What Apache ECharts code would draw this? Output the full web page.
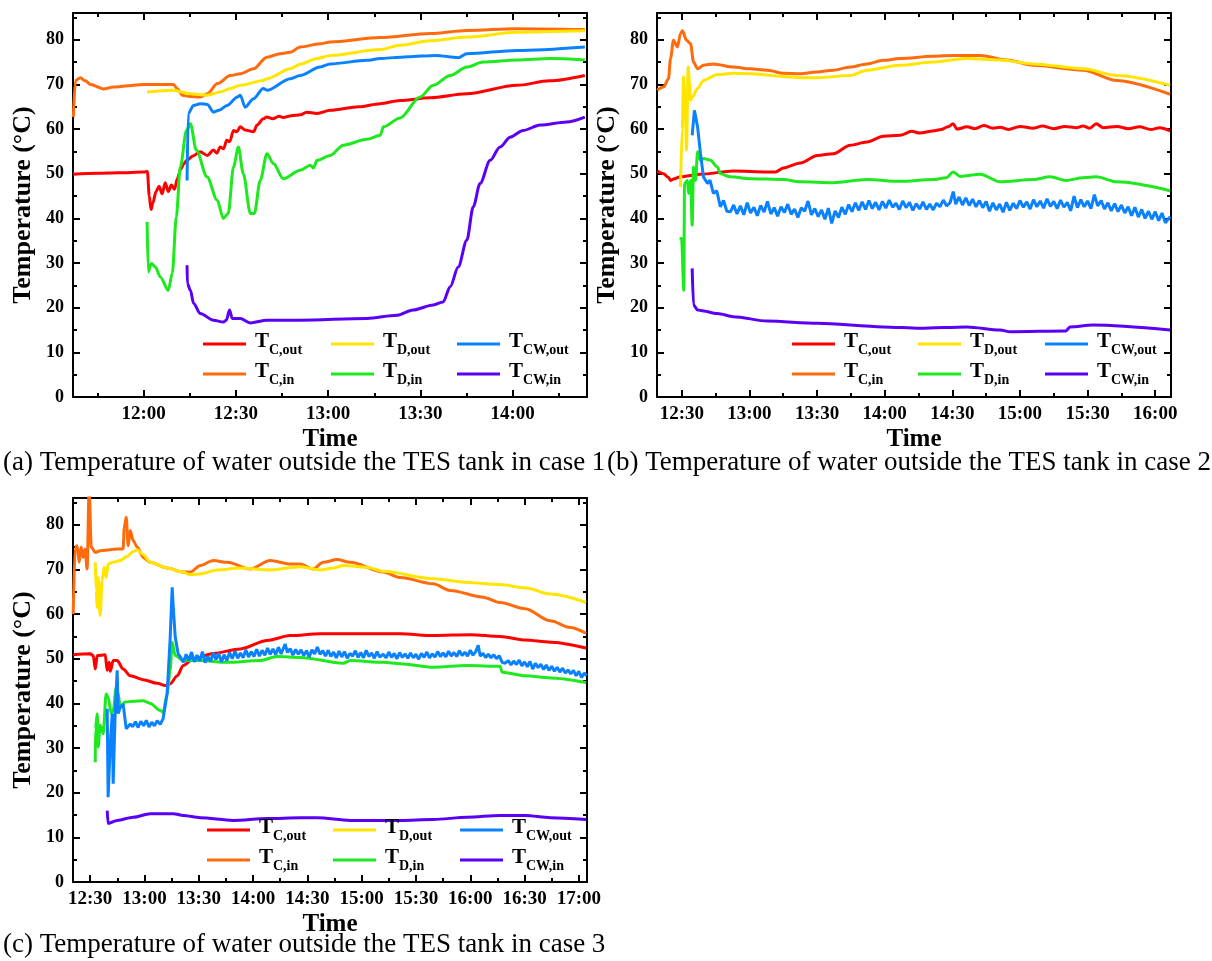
<!DOCTYPE html>
<html>
<head>
<meta charset="utf-8">
<title>Temperature of water outside the TES tank</title>
<script src="https://cdn.jsdelivr.net/npm/echarts@6.0.0/dist/echarts.min.js"></script>
<style>
  html, body { margin: 0; padding: 0; background: #fff; }
  #chart { width: 1212px; height: 961px; }
</style>
</head>
<body>
<div id="chart"></div>
<script>
// time is in minutes after midnight, temperature in °C
const seriesNames = ['TC,out', 'TC,in', 'TD,out', 'TD,in', 'TCW,out', 'TCW,in']
const seriesColors = ['#ff0000', '#ff6a0d', '#ffe500', '#1ee81e', '#0a82ff', '#5a00f5']

const yMajor = [0, 10, 20, 30, 40, 50, 60, 70, 80]
const yMinor = [5, 15, 25, 35, 45, 55, 65, 75, 85]
const yRange = [0, 86]

// case 1
const aRange = [697, 864.2]
const aMajor = [720, 750, 780, 810, 840]
const aMinor = [705, 735, 765, 795, 825, 855]
const a_TCout = [[697, 49.9], [705, 50.1], [712, 50.2], [720, 50.4], [721.2, 50.5], [721.8, 45], [722.4, 42], [723, 43.5], [724, 46], [725, 47.2], [726, 45.5], [727, 48], [728, 46], [729, 47.5], [730, 46.5], [731, 49], [732, 51], [733, 52.2], [734, 53], [736, 54], [738.4, 54.9], [740.7, 54.1], [742.7, 55.3], [743.8, 54.6], [744.9, 56], [746, 55.6], [747, 57.5], [748, 57.2], [749.2, 59.7], [750.3, 59.4], [751.4, 60.5], [753, 59.8], [755.7, 59.4], [756.9, 60.9], [758.9, 62.3], [760, 62.7], [762, 62.3], [764, 62.9], [765.4, 62.6], [768, 63], [771, 63.2], [773, 63.8], [776.4, 63.5], [780.7, 64.2], [790, 65], [796.9, 65.7], [803.4, 66.4], [813.2, 67], [825, 67.9], [841.4, 69.8], [852, 70.8], [863.5, 72]]
const a_TCin = [[697.1, 62.7], [697.8, 70.9], [699.4, 71.5], [701, 70.8], [702.7, 70], [706.9, 69], [710.2, 69.4], [715, 69.7], [720, 70], [729.7, 70], [731, 69], [732.6, 67.6], [735, 67.3], [738.4, 67.2], [740.7, 67.9], [744, 70.2], [748.2, 72], [751.4, 72.4], [755.7, 73.5], [760.1, 76.1], [764.4, 76.9], [767.7, 77.2], [770.9, 78.4], [777.4, 79.1], [780.7, 79.5], [796.9, 80.5], [813.2, 81.4], [825.1, 82.1], [841.4, 82.5], [863.5, 82.3]]
const a_TDout = [[721.1, 68.3], [729.6, 68.7], [735.2, 67.9], [740.7, 67.6], [744.9, 68.3], [748.2, 69.1], [751.4, 69.8], [758.9, 70.9], [760.1, 71.3], [767.7, 73.5], [770.9, 74.5], [776.4, 75.8], [780.7, 76.5], [796.9, 77.8], [803.4, 78.8], [813.2, 79.8], [825.1, 80.6], [841.4, 81.7], [863.5, 82]]
const a_TDin = [[721.1, 39.2], [721.5, 28], [722.5, 29.9], [723.8, 29.1], [725.4, 26.9], [728, 23.9], [729.3, 27.7], [730.6, 40.3], [731.9, 51.5], [733.9, 59.7], [735.2, 61.2], [737.1, 55.3], [740.6, 49.3], [743.9, 44.1], [745.9, 40], [747.5, 41.1], [749.2, 51.5], [750.8, 56], [752.4, 50], [754.7, 41.1], [756, 41.1], [757.9, 48.5], [760.1, 54.5], [762.2, 52.3], [765.4, 48.9], [770.9, 50.8], [774.2, 51.9], [775.2, 51.3], [776.4, 53], [780.7, 54.1], [784.9, 56.4], [792.6, 57.7], [796.9, 58.6], [798, 60.5], [803.4, 62.5], [809.9, 67.2], [814.2, 69.8], [819.7, 72], [825.1, 73.9], [830.4, 75], [841.4, 75.5], [852.2, 75.8], [863.5, 75.5]]
const a_TCWout = [[734.1, 48.5], [734.5, 63.5], [736.2, 65.3], [738.4, 65.7], [740.7, 65.5], [742.7, 63.8], [744.5, 64.2], [747.1, 65.3], [750.5, 67.2], [751.4, 67.6], [753, 64.9], [755.7, 66.8], [758.9, 69.1], [760.1, 68.7], [767.7, 71.3], [770.9, 72], [777.4, 73.9], [780.7, 74.6], [792.6, 75.4], [796.9, 75.8], [803.4, 76.1], [806, 76.2], [815, 76.5], [822.3, 76], [825.1, 76.9], [841.4, 77.6], [863.5, 78.4]]
const a_TCWin = [[734.1, 29.5], [734.2, 25.4], [735.2, 23.9], [736.2, 21], [738.4, 18.7], [742.7, 17.2], [745.9, 16.8], [746.9, 17.2], [747.9, 19.5], [748.8, 17.6], [751.4, 17.6], [754.7, 16.6], [760.1, 17.2], [770.9, 17.2], [792.6, 17.6], [802.4, 18.3], [807.6, 19.5], [814.2, 20.6], [817.4, 21.3], [819.7, 24.7], [822.3, 29.1], [825.1, 35.1], [827.2, 42.6], [829.4, 47.8], [832.7, 53], [835.9, 56], [839.2, 58.2], [843.4, 59.7], [849, 60.9], [857.6, 61.6], [863.5, 62.7]]

// case 2
const bRange = [739, 967]
const bMajor = [750, 780, 810, 840, 870, 900, 930, 960]
const bMinor = [765, 795, 825, 855, 885, 915, 945]
const b_TCout = [[739.1, 50.6], [741.9, 50], [744, 49.2], [745, 48.5], [746.3, 48.8], [749.4, 49.3], [758.3, 49.9], [772.9, 50.6], [788, 50.4], [791.5, 50.4], [795.1, 51.3], [802.6, 52.4], [810.1, 54.1], [817.2, 54.5], [824.7, 56.4], [832.1, 57.1], [839.4, 58.4], [846.8, 58.6], [852, 59.5], [855.6, 59.1], [861.4, 59.6], [865, 59.9], [868, 60.5], [870.4, 61.2], [872, 60], [876.5, 60.5], [880, 60.1], [884, 60.8], [888, 60.2], [891.2, 60.4], [895, 59.9], [900, 60.6], [905.8, 60.2], [910, 60.7], [915, 60.1], [920, 60.6], [925, 60.3], [928, 60.7], [931, 60.2], [933.8, 61.2], [937, 60.3], [943, 60.6], [948, 60.1], [953, 60.5], [958, 59.9], [962, 60.3], [966.6, 59.6]]
const b_TCin = [[739.1, 68.7], [741.9, 69.4], [744.1, 71.3], [745, 75.8], [746.3, 79.9], [748.1, 78.4], [749.4, 81.4], [750.3, 82], [752.1, 79.9], [753.9, 79.1], [755.2, 75], [757, 73.5], [759.6, 74.3], [764, 74.6], [772.9, 73.9], [780.4, 73.5], [788, 73.2], [795.1, 72.5], [802.6, 72.4], [810.1, 72.8], [817.2, 73.2], [824.7, 73.9], [832.1, 74.6], [839.4, 75.4], [846.8, 75.8], [861.4, 76.3], [870.4, 76.5], [882.4, 76.5], [894.2, 75.5], [905.8, 74.3], [928, 73.2], [943, 70.9], [966.6, 67.8]]
const b_TDout = [[749.4, 47], [750.2, 60], [750.8, 71.7], [751.5, 66], [752.1, 55.3], [752.8, 73.9], [753.5, 70], [753.9, 66.4], [754.7, 67.2], [757, 69.1], [759.6, 70.9], [765.8, 72.2], [772.9, 72.5], [780.4, 72.4], [795.1, 71.8], [802.6, 71.5], [810.1, 71.5], [824.7, 72], [832.1, 73.2], [846.8, 74.3], [861.4, 75], [876.5, 75.8], [891.2, 75.5], [905.8, 74.6], [928, 73.5], [943, 72], [966.6, 69.8]]
const b_TDin = [[749, 35.5], [749.9, 35.5], [750.9, 23.9], [751.2, 47.8], [752.5, 48.5], [753, 45.6], [753.9, 48.5], [754.6, 38.5], [755.2, 51.5], [756.1, 48.5], [757, 54.9], [758.3, 53], [759.6, 53.4], [762.7, 53], [765.8, 51.5], [767.1, 50], [771.6, 49.3], [780.4, 48.9], [795.1, 48.7], [802.6, 48.2], [817.2, 48], [832.1, 48.7], [846.8, 48.3], [861.4, 48.7], [867.3, 49.1], [870.4, 50.4], [873.5, 49.4], [882.4, 49.9], [891.2, 48.2], [905.8, 48.7], [913.4, 49.3], [920.4, 48.5], [928, 49.1], [933.8, 49.3], [943, 48.2], [966.6, 46.2]]
const b_TCWout = [[754.6, 58.6], [755.6, 64.2], [757, 60.5], [758.3, 54.5], [759.6, 49.3], [761.4, 47.8], [762.5, 48.6], [764, 45.6], [765.5, 46.2], [767.1, 42.6], [768.5, 44], [770, 41.6], [771.6, 41.5], [773, 43], [774.5, 41], [776, 42.8], [777.5, 40.8], [779, 43.5], [780.5, 41.2], [782, 42.5], [783.5, 40.6], [785, 42.9], [786.5, 41.4], [788, 43.8], [789.5, 41], [791, 42.4], [792.5, 40.5], [794, 42.6], [795.5, 41.3], [797, 43.2], [798.5, 40.9], [800, 42.1], [801.5, 40.2], [803, 42.4], [804.5, 41.6], [806, 43.9], [807.5, 40.8], [809, 42.2], [810.5, 40.4], [812, 41.9], [813.5, 39.8], [815, 42.3], [816.5, 38.9], [818, 41.7], [819.5, 40.2], [821, 42.5], [822.5, 40.9], [824, 43.1], [825.5, 41.5], [827, 43.5], [828.5, 41.8], [830, 43.7], [831.5, 42], [833, 44], [834.5, 42.2], [836, 43.6], [837.5, 41.9], [839, 43.8], [840.5, 42.3], [842, 44.1], [843.5, 42.5], [845, 43.4], [846.5, 42], [848, 43.9], [849.5, 42.4], [851, 43.6], [852.5, 41.8], [854, 43.3], [855.5, 42.1], [857, 43.7], [858.5, 42], [860, 43.2], [861.5, 41.9], [863, 43.4], [864.5, 42.6], [866, 44.1], [867.5, 42.8], [869, 43.5], [870.4, 46], [871.5, 43.2], [873, 44.8], [874.5, 43], [876, 44.6], [877.5, 42.9], [879, 44.3], [880.5, 42.6], [882, 44], [883.5, 42.4], [885, 43.8], [886.5, 41.6], [888, 43.5], [889.5, 41.9], [891, 43.2], [892.5, 41.4], [894, 43.6], [895.5, 41.8], [897, 43.4], [898.5, 42.2], [900, 44], [901.5, 42.5], [903, 43.7], [904.5, 42.1], [906, 44.2], [907.5, 42.6], [909, 43.9], [910.5, 42.3], [912, 44.4], [913.5, 42.7], [915, 43.8], [916.5, 42.2], [918, 44.1], [919.5, 42.5], [921, 43.6], [922.5, 41.7], [924, 45], [925.5, 42.4], [927, 44.2], [928.5, 42.6], [930, 43.9], [931.5, 42.2], [933, 45.3], [934.5, 42.8], [936, 44], [937.5, 42.1], [939, 43.5], [940.5, 41.7], [942, 43.3], [943.5, 41.5], [945, 43], [946.5, 41.2], [948, 42.6], [949.5, 40.6], [951, 42.5], [952.5, 40.3], [954, 42], [955.5, 40], [957, 41.6], [958.5, 39.8], [960, 41.5], [961.5, 39.5], [963, 41.2], [964.5, 39], [966.6, 40.4]]
const b_TCWin = [[754.6, 28.8], [755.2, 20.6], [757, 19.5], [758.3, 19.4], [765.8, 18.7], [772.9, 18], [788, 17], [810.1, 16.5], [839.4, 15.7], [855.6, 15.4], [876.5, 15.7], [891.2, 15], [895.7, 14.6], [920.4, 14.8], [922.2, 15.7], [932.4, 16.1], [966.6, 15]]

// case 3
const cRange = [740.5, 1024.5]
const cMajor = [750, 780, 810, 840, 870, 900, 930, 960, 990, 1020]
const cMinor = [765, 795, 825, 855, 885, 915, 945, 975, 1005]
const c_TCout = [[740.6, 50.9], [750, 51.1], [751.7, 50.7], [752.8, 47.7], [753.9, 50.7], [758.3, 50.9], [759.4, 47.4], [760.5, 49.2], [761.1, 47.2], [762.7, 49.6], [764.9, 49.6], [768.2, 47.7], [772.1, 46.2], [779.3, 45.3], [787, 44.5], [791.4, 44], [794.2, 44.4], [798.1, 46.2], [801.4, 48.5], [806.9, 50], [818, 51.2], [832.9, 52.2], [847.8, 54.1], [860.5, 55.2], [877.1, 55.6], [893.7, 55.6], [921.3, 55.6], [939.5, 55.2], [960, 55.4], [976.5, 55], [990.3, 54.2], [1004.2, 53.7], [1024, 52.4]]
const c_TCin = [[740.6, 60], [741.7, 75], [742.8, 75.3], [743.9, 71.6], [745, 75], [746.1, 72.7], [747.2, 74.6], [748.3, 70.1], [749.4, 88], [750.6, 75], [752.8, 73.8], [755.5, 74.2], [761.1, 74.4], [764.9, 74.6], [768.2, 74.6], [768.8, 79.4], [769.9, 81.7], [771, 75.3], [772.1, 78.7], [773.8, 76.4], [776, 75], [779.3, 72.7], [783.2, 71.6], [792.5, 70.3], [801.4, 69.4], [805.3, 69.4], [810.8, 70.9], [818, 72], [825.7, 71.6], [838.4, 70.1], [849.5, 72], [860.5, 71.2], [866, 71.2], [873.2, 70.1], [878.7, 71.6], [886.5, 72.2], [893.7, 71.6], [911.9, 69.4], [921.3, 68.2], [939.5, 66.8], [948.9, 65.3], [967.1, 63.8], [976.5, 62.6], [990.3, 61.2], [1004.2, 58.5], [1015.2, 57], [1024, 55.7]]
const c_TDout = [[752.8, 71.6], [753.3, 65.3], [753.9, 61.5], [754.4, 68.2], [755.5, 59.7], [756.6, 67.5], [757.7, 70.5], [758.8, 68.2], [759.9, 71.2], [762.7, 71.6], [766.6, 72], [770.4, 72.9], [773.8, 74], [776, 74.4], [779.3, 73.3], [783.2, 71.6], [792.5, 70.3], [801.4, 69.4], [805.3, 68.8], [810.8, 69], [820.2, 69.9], [832.9, 70.3], [849.5, 69.9], [866, 70.6], [877.1, 69.9], [884.3, 70.3], [889.8, 70.9], [903, 70.5], [911.9, 69.6], [939.5, 67.9], [958.3, 67.1], [976.5, 66.6], [990.3, 65.9], [1004.2, 64.5], [1024, 62.6]]
const c_TDin = [[752.8, 26.8], [752.9, 34.3], [753.9, 37.7], [754.4, 30.2], [755.5, 35.1], [757.2, 33.2], [758.8, 42.1], [759.9, 41.4], [761.6, 37.7], [762.7, 38.4], [764.4, 43.6], [765.5, 42.1], [766.6, 39.1], [769.3, 40.3], [773.8, 40.5], [779.3, 40.6], [783.2, 40], [788.7, 38.4], [790.3, 38], [792.5, 42.1], [794.2, 47.4], [795.3, 53.7], [797, 50.7], [801.4, 49.6], [810.8, 49.6], [825.7, 49.2], [843.9, 49.6], [853.3, 50.5], [866, 50.3], [889.8, 49], [893.7, 49.6], [911.9, 49.2], [921.3, 48.9], [939.5, 48.1], [958.3, 48.5], [976.5, 48.3], [977.6, 47], [990.3, 46.2], [1004.2, 45.7], [1024, 44.7]]
const c_TCWout = [[759.4, 38.8], [759.9, 19], [761.1, 31], [762.2, 37.7], [762.7, 22], [763.8, 37.7], [764.9, 47.4], [765.5, 37.7], [766.6, 39.1], [768.2, 39.9], [769.9, 34.3], [772.1, 35.4], [773.5, 34.8], [775, 35.9], [776.5, 34.6], [778, 36], [779.5, 35], [781, 36.2], [782.5, 34.7], [784, 35.8], [785.5, 35], [787, 36.1], [788.7, 35.3], [790.3, 36.6], [792.5, 42.1], [794.2, 54.8], [795.3, 66], [795.9, 61.5], [797, 54.8], [798.6, 51.1], [800, 50.3], [801.5, 49.2], [803, 51], [804.5, 49.6], [806, 51.5], [807.5, 49.3], [809, 50.8], [810.5, 49.5], [812, 51.6], [813.5, 49.1], [815, 50.5], [816.5, 49.4], [818, 51.3], [819.5, 49.8], [821, 51.2], [822.5, 49.3], [824, 50.9], [825.5, 49.6], [827, 51.4], [828.5, 50], [830, 51.7], [831.5, 50.1], [833, 51.3], [834.5, 50.2], [836, 52], [837.5, 50.4], [839, 51.6], [840.5, 50.5], [842, 52.1], [843.5, 50.6], [845, 51.9], [846.5, 50.8], [848, 52.4], [849.5, 51], [851, 52.2], [852.5, 50.9], [854, 52.6], [855.5, 51.1], [857.7, 53.3], [859, 51.4], [860.5, 52.3], [862, 50.8], [863.5, 52.1], [865, 51], [866.5, 52], [868, 50.7], [869.5, 51.8], [871, 50.4], [872.5, 52], [874, 51.1], [875.5, 52.6], [877, 51], [878.5, 51.8], [880, 50.6], [881.5, 51.9], [883, 50.5], [884.5, 51.5], [886, 50.2], [887.5, 51.7], [889, 50.4], [890.5, 51.6], [892, 50.1], [893.5, 51.2], [895, 50.6], [896.5, 51.8], [898, 50.3], [899.5, 51.4], [901, 50.2], [902.5, 51.9], [904, 50.5], [905.5, 51.3], [907, 50.1], [908.5, 51.6], [910, 50.4], [911.9, 51], [913.5, 50.2], [915, 51.5], [916.5, 50.3], [918, 51.2], [919.5, 50], [921, 51.4], [922.5, 50.3], [924, 51.1], [925.5, 50.1], [927, 51.3], [928.5, 50.2], [930, 51], [931.5, 49.9], [933, 51.2], [934.5, 50.3], [936, 51.5], [937.5, 50.2], [939, 51.1], [940.5, 50.4], [942, 51.6], [943.5, 50.5], [945, 51.3], [946.5, 50.4], [948, 51.7], [949.5, 50.6], [951, 51.4], [952.5, 50.5], [954, 51.8], [955.5, 50.7], [957, 51.5], [958.5, 50.6], [960, 51.9], [961.5, 50.8], [963, 51.6], [964.4, 53], [965.5, 50.6], [967, 51.2], [968.5, 50.3], [970, 51], [971.5, 50.2], [973, 50.9], [974.5, 50], [976, 50.7], [977.6, 49.2], [979.3, 49], [981, 49.6], [982.5, 48.6], [984, 49.5], [985.5, 48.7], [987, 49.7], [988.5, 48.4], [990, 49.3], [991.5, 48.2], [993, 49.4], [994.5, 47.7], [996, 49], [997.5, 48], [999, 48.8], [1000.5, 47.6], [1002, 48.6], [1003.5, 47.4], [1005, 48.3], [1006.5, 47.2], [1008, 48.1], [1009.5, 47], [1011, 47.9], [1012.5, 46.8], [1014, 47.5], [1015.5, 46.6], [1017, 47.4], [1018.5, 46.2], [1020, 47.2], [1021.5, 45.8], [1023, 46.8], [1024.2, 46.2]]
const c_TCWin = [[759.4, 16], [759.9, 13.1], [764.9, 13.8], [773.8, 14.5], [783.2, 15.3], [795.9, 15.3], [801.4, 14.9], [810.8, 14.4], [829, 13.8], [847.8, 14.2], [866, 14.4], [875.4, 14.4], [893.7, 13.8], [921.3, 13.8], [939.5, 14], [958.3, 14.5], [976.5, 14.9], [990.3, 14.9], [1004.2, 14.4], [1024, 14]]

const captions = [
  '(a) Temperature of water outside the TES tank in case 1',
  '(b) Temperature of water outside the TES tank in case 2',
  '(c) Temperature of water outside the TES tank in case 3'
]

const SERIF = '"Liberation Serif", "Times New Roman", serif'

function hhmm (v) {
  let t = Math.round(v)
  let m = t % 60
  return Math.floor(t / 60) + ':' + (m < 10 ? '0' : '') + m
}

// one panel = one grid with a closed box: main + minor ticks on each side
let panels = [
  { grid: { left: 73, top: 13, width: 514, height: 384 }, range: aRange, major: aMajor, minor: aMinor,
    data: [a_TCout, a_TCin, a_TDout, a_TDin, a_TCWout, a_TCWin], legend: [203, 331, 457], legendTop: 331 },
  { grid: { left: 657, top: 13, width: 514, height: 384 }, range: bRange, major: bMajor, minor: bMinor,
    data: [b_TCout, b_TCin, b_TDout, b_TDin, b_TCWout, b_TCWin], legend: [792, 918, 1045], legendTop: 331 },
  { grid: { left: 73, top: 498, width: 514, height: 384 }, range: cRange, major: cMajor, minor: cMinor,
    data: [c_TCout, c_TCin, c_TDout, c_TDin, c_TCWout, c_TCWin], legend: [207, 333, 460], legendTop: 817 }
]
// the very noisy logger traces are drawn without smoothing
const noisy = [b_TCWout, c_TCWout]

let grids = [], xAxes = [], yAxes = [], series = [], legends = []
const black = '#000'

panels.forEach((p, g) => {
  grids.push(p.grid)
  let xb = { type: 'value', gridIndex: g, min: p.range[0], max: p.range[1], splitLine: { show: false } }
  let yb = { type: 'value', gridIndex: g, min: yRange[0], max: yRange[1], splitLine: { show: false } }
  let line = { show: true, onZero: false, lineStyle: { color: black, width: 2 } }
  let noLine = { show: false, onZero: false }
  let tick = (vals, len) => ({ show: true, inside: true, length: len, customValues: vals, lineStyle: { color: black, width: 2 } })

  xAxes.push(Object.assign({}, xb, {
    position: 'bottom', axisLine: line, axisTick: tick(p.major, 7),
    axisLabel: { customValues: p.major, formatter: hhmm, margin: 8, color: black, fontFamily: SERIF, fontWeight: 'bold', fontSize: 19 },
    name: 'Time', nameLocation: 'middle', nameGap: 30,
    nameTextStyle: { color: black, fontFamily: SERIF, fontWeight: 'bold', fontSize: 25 }
  }))
  xAxes.push(Object.assign({}, xb, { position: 'bottom', axisLine: noLine, axisTick: tick(p.minor, 4), axisLabel: { show: false } }))
  xAxes.push(Object.assign({}, xb, { position: 'top', axisLine: line, axisTick: tick(p.major, 7), axisLabel: { show: false } }))
  xAxes.push(Object.assign({}, xb, { position: 'top', axisLine: noLine, axisTick: tick(p.minor, 4), axisLabel: { show: false } }))

  yAxes.push(Object.assign({}, yb, {
    position: 'left', axisLine: line, axisTick: tick(yMajor, 7),
    axisLabel: { customValues: yMajor, margin: 9, color: black, fontFamily: SERIF, fontWeight: 'bold', fontSize: 18 },
    name: 'Temperature (°C)', nameLocation: 'middle', nameGap: 37,
    nameTextStyle: { color: black, fontFamily: SERIF, fontWeight: 'bold', fontSize: 26 }
  }))
  yAxes.push(Object.assign({}, yb, { position: 'left', axisLine: noLine, axisTick: tick(yMinor, 4), axisLabel: { show: false } }))
  yAxes.push(Object.assign({}, yb, { position: 'right', axisLine: line, axisTick: tick(yMajor, 7), axisLabel: { show: false } }))
  yAxes.push(Object.assign({}, yb, { position: 'right', axisLine: noLine, axisTick: tick(yMinor, 4), axisLabel: { show: false } }))

  p.data.forEach((d, i) => {
    let smooth = noisy.indexOf(d) < 0
    series.push({
      name: seriesNames[i], type: 'line', data: d,
      xAxisIndex: g * 4, yAxisIndex: g * 4,
      showSymbol: false, symbol: 'none', clip: true,
      smooth: smooth ? 0.3 : false, smoothMonotone: 'x',
      color: seriesColors[i],
      lineStyle: { width: 3, color: seriesColors[i] }
    })
  })

  // legend: three columns of (out, in)
  for (let c = 0; c < 3; c++) {
    legends.push({
      orient: 'vertical', left: p.legend[c], top: p.legendTop, padding: 0, itemGap: 4,
      icon: 'rect', itemWidth: 43, itemHeight: 3, selectedMode: false,
      data: [seriesNames[c * 2], seriesNames[c * 2 + 1]],
      formatter: name => '{t|T}{s|' + name.slice(1) + '}',
      textStyle: {
        rich: {
          t: { fontFamily: SERIF, fontWeight: 'bold', fontSize: 21, color: black, padding: [0, 0, 5, 4], verticalAlign: 'bottom' },
          s: { fontFamily: SERIF, fontWeight: 'bold', fontSize: 14, color: black, verticalAlign: 'bottom' }
        }
      }
    })
  }
})

let chart = echarts.init(document.getElementById('chart'))
chart.setOption({
  animation: false,
  backgroundColor: '#fff',
  grid: grids,
  xAxis: xAxes,
  yAxis: yAxes,
  legend: legends,
  series: series,
  graphic: [
    { type: 'text', left: 3, top: 449, style: { text: captions[0], font: '27px ' + SERIF, fill: black } },
    { type: 'text', left: 607, top: 449, style: { text: captions[1], font: '27px ' + SERIF, fill: black } },
    { type: 'text', left: 3, top: 931, style: { text: captions[2], font: '27px ' + SERIF, fill: black } }
  ]
})
</script>
</body>
</html>
